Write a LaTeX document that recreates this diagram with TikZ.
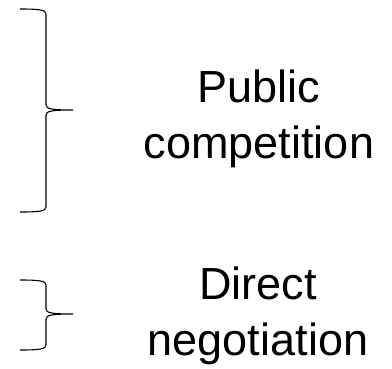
\documentclass[tikz,border=0pt]{standalone}
\usepackage{fontspec}
\setmainfont{Liberation Sans}
\usepackage{tikz}

\begin{document}
\begin{tikzpicture}[x=1pt, y=-1pt, every node/.style={font=\fontsize{45}{56}\selectfont, align=center, inner sep=0pt}]
    \useasboundingbox (0,0) rectangle (392,368);
    % Braces: top / tip / bottom
    \foreach \t/\m/\b in {9/110/212, 280/314/350} {
        \draw[line width=1.1pt] (20,\t) .. controls (40,\t) and (46,\t+1) .. (46,\t+5)
            -- (46,\m-5) .. controls (46,\m-1) and (52,\m) .. (73,\m)
            .. controls (52,\m) and (46,\m+1) .. (46,\m+5)
            -- (46,\b-5) .. controls (46,\b-1) and (40,\b) .. (20,\b);
    }
    % Labels
    \node (public) at (259,119) {Public\\competition};
    \node (direct) at (258,316) {Direct\\negotiation};
\end{tikzpicture}
\end{document}
